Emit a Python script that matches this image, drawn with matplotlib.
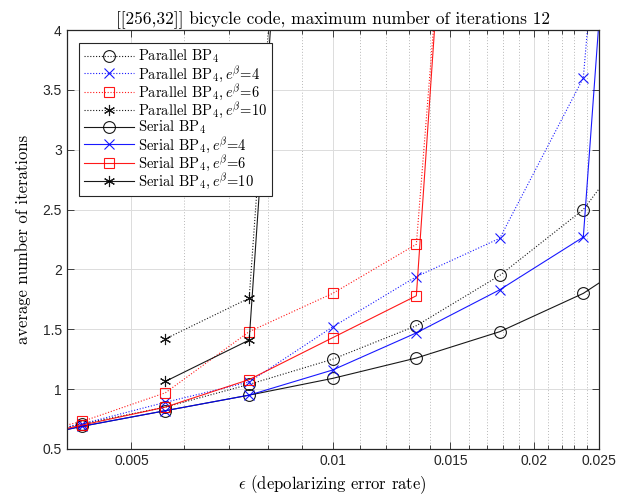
import numpy as np
import matplotlib
matplotlib.use("Agg")
import matplotlib.pyplot as plt
from matplotlib.ticker import FixedLocator, FixedFormatter, NullFormatter

plt.rcParams['mathtext.fontset'] = 'cm'
plt.rcParams['axes.unicode_minus'] = False

# ---- data ----
eps = [0.00316, 0.00422, 0.00562, 0.0075, 0.01, 0.01334, 0.01778, 0.02371, 0.03162]
nan = np.nan
par_bp4      = [0.56, 0.71, 0.85, 1.04, 1.25, 1.53, 1.95, 2.50, 3.42]
par_bp4_e4   = [0.56, 0.71, 0.89, 1.06, 1.52, 1.94, 2.26, 3.60, 11.8]
par_bp4_e6   = [0.57, 0.73, 0.97, 1.48, 1.80, 2.21, 11.0, nan, nan]
par_bp4_e10  = [nan, nan, 1.42, 1.76, 11.5, nan, nan, nan, nan]
ser_bp4      = [0.54, 0.69, 0.82, 0.95, 1.09, 1.26, 1.48, 1.80, 2.26]
ser_bp4_e4   = [0.54, 0.69, 0.82, 0.95, 1.16, 1.47, 1.83, 2.27, 11.9]
ser_bp4_e6   = [0.55, 0.70, 0.85, 1.08, 1.43, 1.78, 12.0, nan, nan]
ser_bp4_e10  = [nan, nan, 1.065, 1.41, 11.6, nan, nan, nan, nan]

labels = [
    r'Parallel BP$_4$',
    r'Parallel BP$_4, e^{\beta}$=4',
    r'Parallel BP$_4, e^{\beta}$=6',
    r'Parallel BP$_4, e^{\beta}$=10',
    r'Serial BP$_4$',
    r'Serial BP$_4, e^{\beta}$=4',
    r'Serial BP$_4, e^{\beta}$=6',
    r'Serial BP$_4, e^{\beta}$=10',
]
x_ticks = [0.005, 0.01, 0.015, 0.02, 0.025]
x_ticklabels = ['0.005', '0.01', '0.015', '0.02', '0.025']
y_ticks = [0.5, 1, 1.5, 2, 2.5, 3, 3.5, 4]
y_ticklabels = ['0.5', '1', '1.5', '2', '2.5', '3', '3.5', '4']
title = '[[256,32]] bicycle code, maximum number of iterations 12'

series = [par_bp4, par_bp4_e4, par_bp4_e6, par_bp4_e10,
          ser_bp4, ser_bp4_e4, ser_bp4_e6, ser_bp4_e10]
colors = ['k', 'b', 'r', 'k', 'k', 'b', 'r', 'k']
markers = ['o', 'x', 's', (6, 2, 0), 'o', 'x', 's', (6, 2, 0)]
msizes = [8.5, 7, 7.5, 8, 8.5, 7, 7.5, 8]
dotted = (0, (1, 1.6))
styles = [dotted] * 4 + ['-'] * 4

fig = plt.figure(figsize=(6.41, 5.0), dpi=100)
ax = fig.add_axes([66.7 / 641, 1 - 449 / 500, (598.7 - 66.7) / 641, (449 - 30) / 500])

for ys, c, m, ms, ls, lab in zip(series, colors, markers, msizes, styles, labels):
    ax.plot(eps, np.array(ys, dtype=float), color=c, marker=m, markersize=ms,
            markerfacecolor='none', markeredgecolor=c, markeredgewidth=0.8,
            linestyle=ls, linewidth=0.8, label=lab, alpha=0.9)

ax.set_xscale('log')
ax.set_xlim(0.004, 0.025)
ax.set_ylim(0.5, 4)

minor = [v / 1000 for v in range(4, 25) if v not in (5, 10, 15, 20, 25)]
ax.xaxis.set_major_locator(FixedLocator(x_ticks))
ax.xaxis.set_major_formatter(FixedFormatter(x_ticklabels))
ax.xaxis.set_minor_locator(FixedLocator(minor))
ax.xaxis.set_minor_formatter(NullFormatter())
ax.yaxis.set_major_locator(FixedLocator(y_ticks))
ax.yaxis.set_major_formatter(FixedFormatter(y_ticklabels))

ax.grid(True, which='major', color='#dcdcdc', linestyle='-', linewidth=0.7)
ax.grid(True, which='minor', axis='x', color='#b8b8b8', linestyle=(0, (1, 2)), linewidth=0.7)
ax.set_axisbelow(True)

ax.tick_params(which='both', direction='in', top=True, right=True, colors='#262626',
               labelsize=10, width=0.6)
ax.tick_params(which='major', length=5)
ax.tick_params(which='minor', length=3)
for lab in ax.get_xticklabels() + ax.get_yticklabels():
    lab.set_family('Liberation Sans')
for sp in ax.spines.values():
    sp.set_color('#262626')
    sp.set_linewidth(0.9)

ax.set_title(title, family='cmr10', fontsize=12.5, pad=4)
ax.set_xlabel(r'$\epsilon$ (depolarizing error rate)', family='cmr10', fontsize=12, labelpad=4)
ax.set_ylabel('average number of iterations', family='cmr10', fontsize=12, labelpad=8)

leg = ax.legend(loc='upper left', bbox_to_anchor=(79 / 641, 1 - 42.7 / 500),
                bbox_transform=fig.transFigure, borderaxespad=0,
                prop={'family': 'cmr10', 'size': 10.5}, handlelength=3.4,
                labelspacing=-0.08, handletextpad=0.3, borderpad=0.35,
                fancybox=False, framealpha=1, edgecolor='#262626')
leg.get_frame().set_linewidth(0.8)

fig.savefig('out.png', dpi=100)
